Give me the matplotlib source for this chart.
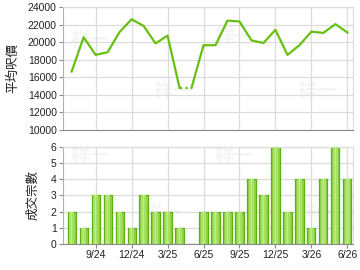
import matplotlib
matplotlib.use("Agg")
import matplotlib.pyplot as plt
import numpy as np

months = ["7/24","8/24","9/24","10/24","11/24","12/24","1/25","2/25","3/25","4/25","5/25","6/25",
          "7/25","8/25","9/25","10/25","11/25","12/25","1/26","2/26","3/26","4/26","5/26","6/26"]
avg_price = [16650, 20550, 18550, 18850, 21150, 22600, 21850, 19850, 20750, 14800, 14800, 19650,
             19650, 22450, 22350, 20200, 19900, 21400, 18550, 19650, 21200, 21050, 22050, 21100]
deals = [2, 1, 3, 3, 2, 1, 3, 2, 2, 1, 0, 2, 2, 2, 2, 4, 3, 6, 2, 4, 1, 4, 6, 4]
tick_labels = ["9/24", "12/24", "3/25", "6/25", "9/25", "12/25", "3/26", "6/26"]
dotted_from = 9  # segment 4/25 -> 5/25 (no transactions) drawn dotted

plt.rcParams['font.family'] = ['Liberation Sans', 'Noto Sans CJK TC', 'DejaVu Sans']
cjk = ['Noto Sans CJK TC', 'DejaVu Sans']

fig = plt.figure(figsize=(3.6, 2.7), dpi=100)
ax1 = fig.add_axes([0.175, 0.5185, 0.8056, 0.4556])
ax2 = fig.add_axes([0.175, 0.0963, 0.8056, 0.3593])

x = np.arange(len(months))
tick_pos = [months.index(t) for t in tick_labels]
xlim = (-0.72, 23.47)
line_c = '#66c010'
grid_c = '#dcdcdc'

for ax in (ax1, ax2):
    ax.set_xlim(*xlim)
    ax.set_xticks(tick_pos)
    ax.grid(True, color=grid_c, linewidth=0.9, zorder=1)
    ax.set_axisbelow(True)
    for s in ('top', 'right'):
        ax.spines[s].set_color(grid_c)
        ax.spines[s].set_linewidth(0.9)
    ax.spines['left'].set_color('#b0b0b0')
    ax.spines['bottom'].set_color('#8a8a8a')
    ax.tick_params(axis='both', labelsize=7.5, colors='#888888', labelcolor='#222222',
                   length=3, width=0.8, pad=1.5)

# watermark (behind data)
wm = {ax1: [(0.25, 0.85), (0.48, 0.66), (0.65, 0.86), (0.88, 0.66)],
      ax2: [(0.25, 0.42), (0.45, 0.21), (0.65, 0.42), (0.88, 0.21)]}
for ax, pts in wm.items():
    for (fx, fy) in pts:
        ax.text(fx, fy, "祥一", family=cjk, fontsize=14, fontweight='bold',
                color='#f5f5f5', ha='center', va='center', zorder=0.4,
                transform=fig.transFigure)

# top line
xs = list(x)
ax1.plot(xs[:dotted_from + 1], avg_price[:dotted_from + 1], color=line_c, lw=1.6, zorder=3)
ax1.plot(xs[dotted_from:dotted_from + 2], avg_price[dotted_from:dotted_from + 2], color=line_c, lw=1.6,
         linestyle=(0, (1, 1.5)), zorder=3)
ax1.plot(xs[dotted_from + 1:], avg_price[dotted_from + 1:], color=line_c, lw=1.6, zorder=3)
ax1.set_ylim(10000, 24000)
ax1.set_yticks(range(10000, 24001, 2000))
ax1.tick_params(axis='x', labelbottom=False, length=0)
ax1.set_ylabel("平均呎價", family=cjk, fontsize=9, labelpad=6, color='#222222')

# bottom bars
ax2.bar(x, deals, width=0.68, color='#8fd44a', edgecolor='#5cb010', linewidth=0.9, zorder=2)
ax2.bar(x, deals, width=0.36, color='#a8e06a', linewidth=0, zorder=3)
ax2.bar(x, deals, width=0.12, color='#c2ec92', linewidth=0, zorder=4)
ax2.set_ylim(0, 6)
ax2.set_yticks(range(0, 7))
ax2.set_xticklabels(tick_labels)
ax2.set_ylabel("成交宗數", family=cjk, fontsize=9, labelpad=8, color='#222222')

fig.savefig("out.png", dpi=100)
